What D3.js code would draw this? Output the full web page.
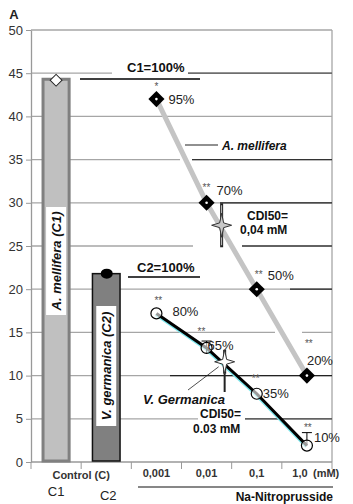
<!DOCTYPE html>
<html>
<head>
<meta charset="utf-8">
<script src="https://cdn.jsdelivr.net/npm/d3@7"></script>
<style>
  body { margin: 0; background: #fff; }
  svg text { font-family: "Liberation Sans", Arial, sans-serif; }
</style>
</head>
<body>
<svg id="chart" width="353" height="504"></svg>
<script>
// values
const categories = ["C1", "C2", "0,001", "0,01", "0,1", "1,0"];
const controlValues = [44.3, 21.8];
const melliferaValues = [42, 30, 20, 10];
const germanicaValues = [17.2, 13.2, 7.9, 1.9];
const melliferaLabels = ["95%", "70%", "50%", "20%"];
const germanicaLabels = ["80%", "65%", "35%", "10%"];
const melliferaStars = ["*", "**", "**", "**"];
const germanicaStars = ["**", "**", "**", "**"];
const germanicaErr = [null, [12.5, 14.0], null, [1.9, 3.4]];
const cdiMellifera = { pos: 3.3, value: 27.4 };
const cdiGermanica = { pos: 3.36, value: 11.6 };
const yTicks = [0, 5, 10, 15, 20, 25, 30, 35, 40, 45, 50];

const svg = d3.select('#chart');

const x = d3.scaleBand()
  .domain(categories)
  .range([31, 332])
  .paddingInner(0.42)
  .paddingOuter(0.21);

const y = d3.scaleLinear().domain([0, 50]).range([462, 30]);

const cx = (pos) => x.range()[0] + x.step() * (pos + 0.5);
const doseCats = categories.slice(2);

// gridlines
svg.append('g')
  .selectAll('line')
  .data(yTicks.slice(1))
  .join('line')
  .attr('x1', 31)
  .attr('x2', 332)
  .attr('y1', d => y(d))
  .attr('y2', d => y(d))
  .attr('stroke', '#a6a6a6')
  .attr('stroke-width', 1.3);

// right frame
svg.append('line')
  .attr('x1', 332).attr('x2', 332)
  .attr('y1', y(50)).attr('y2', y(0))
  .attr('stroke', '#a6a6a6')
  .attr('stroke-width', 1.3);

// white gaps where the boxes cut the gridlines
const gaps = [
  [112, y(45) - 3, 76, 6],
  [180, y(35) - 3, 12, 6],
  [193, y(25) - 3, 49, 6],
  [275, y(15) - 3, 27, 6],
  [198, y(5) - 3, 47, 6]
];
svg.append('g')
  .selectAll('rect')
  .data(gaps)
  .join('rect')
  .attr('x', d => d[0]).attr('y', d => d[1])
  .attr('width', d => d[2]).attr('height', d => d[3])
  .attr('fill', '#fff');

// darker segments over the gridlines
const darkSegs = [
  [188, 332, y(45), '#555'],
  [192, 332, y(35), '#333'],
  [220, 332, y(30), '#222'],
  [242, 332, y(25), '#444'],
  [290, 332, y(20), '#222'],
  [170, 332, y(10), '#222'],
  [245, 332, y(5), '#444']
];
svg.append('g')
  .selectAll('line')
  .data(darkSegs)
  .join('line')
  .attr('x1', d => d[0]).attr('x2', d => d[1])
  .attr('y1', d => d[2]).attr('y2', d => d[2])
  .attr('stroke', d => d[3])
  .attr('stroke-width', 1.3);

// y axis
const yAxis = svg.append('g')
  .attr('transform', 'translate(31,0)')
  .call(d3.axisLeft(y).tickValues(yTicks).tickSize(5).tickPadding(3).tickSizeOuter(0));
yAxis.select('.domain').attr('stroke', '#999').attr('stroke-width', 1.3);
yAxis.selectAll('.tick line').attr('stroke', '#999');
yAxis.selectAll('.tick text')
  .attr('font-size', 13)
  .attr('fill', '#333')
  .attr('font-family', '"Liberation Sans", Arial, sans-serif');

svg.append('text')
  .attr('x', 14).attr('y', 19)
  .attr('text-anchor', 'middle')
  .attr('font-size', 13)
  .attr('font-weight', 'bold')
  .attr('fill', '#222')
  .text('A');

// x axis
svg.append('line')
  .attr('x1', 31).attr('x2', 332)
  .attr('y1', y(0)).attr('y2', y(0))
  .attr('stroke', '#999')
  .attr('stroke-width', 1.3);
svg.append('g')
  .selectAll('line')
  .data(d3.range(categories.length + 1))
  .join('line')
  .attr('x1', i => x.range()[0] + i * x.step())
  .attr('x2', i => x.range()[0] + i * x.step())
  .attr('y1', y(0)).attr('y2', y(0) + 7)
  .attr('stroke', '#999');

// control bars
const barFill = ['#c0c0c0', '#808080'];
const barStroke = ['#808080', '#111'];
const barStrokeW = [3, 1.5];
svg.append('g')
  .selectAll('rect')
  .data(controlValues)
  .join('rect')
  .attr('x', (d, i) => x(categories[i]) + barStrokeW[i] / 2)
  .attr('y', d => y(d))
  .attr('width', (d, i) => x.bandwidth() - barStrokeW[i])
  .attr('height', d => y(0) - y(d) - 1)
  .attr('fill', (d, i) => barFill[i])
  .attr('stroke', (d, i) => barStroke[i])
  .attr('stroke-width', (d, i) => barStrokeW[i]);

// bar labels
const barLabels = [
  { text: 'A. mellifera (C1)', y0: 207, y1: 315 },
  { text: 'V. germanica (C2)', y0: 306, y1: 426 }
];
barLabels.forEach((b, i) => {
  const c = x(categories[i]) + x.bandwidth() / 2;
  svg.append('rect')
    .attr('x', c - 10).attr('y', b.y0)
    .attr('width', 20).attr('height', b.y1 - b.y0)
    .attr('fill', '#fff');
  svg.append('text')
    .attr('transform', `translate(${c + 5},${(b.y0 + b.y1) / 2}) rotate(-90)`)
    .attr('text-anchor', 'middle')
    .attr('font-size', 13)
    .attr('font-weight', 'bold')
    .attr('font-style', 'italic')
    .attr('fill', '#111')
    .text(b.text);
});

// markers on top of bars
svg.append('path')
  .attr('d', d3.symbol(d3.symbolSquare, 70)())
  .attr('transform', `translate(${x('C1') + x.bandwidth() / 2},${y(controlValues[0]) + 1}) rotate(45)`)
  .attr('fill', '#fff')
  .attr('stroke', '#222');
svg.append('ellipse')
  .attr('cx', x('C2') + x.bandwidth() / 2 + 0.5)
  .attr('cy', y(controlValues[1]))
  .attr('rx', 6).attr('ry', 5)
  .attr('fill', '#000');

// 100% labels
const ctrlText = [
  { t: 'C1=100%', x: 127, y: 72, x1: 80, x2: 200, ly: 79 },
  { t: 'C2=100%', x: 137, y: 272, x1: 128, x2: 200, ly: 277 }
];
ctrlText.forEach(c => {
  svg.append('text')
    .attr('x', c.x).attr('y', c.y)
    .attr('font-size', 13).attr('font-weight', 'bold')
    .attr('fill', '#111')
    .text(c.t);
  svg.append('line')
    .attr('x1', c.x1).attr('x2', c.x2)
    .attr('y1', c.ly).attr('y2', c.ly)
    .attr('stroke', '#000').attr('stroke-width', 1.3);
});

// A. mellifera line
const line = d3.line()
  .x((d, i) => x(doseCats[i]) + x.bandwidth() / 2)
  .y(d => y(d));

svg.append('path')
  .datum(melliferaValues)
  .attr('d', line)
  .attr('fill', 'none')
  .attr('stroke', '#c4c4c4')
  .attr('stroke-width', 5);

// V. germanica line with the cyan shadow
svg.append('path')
  .datum(germanicaValues)
  .attr('d', line)
  .attr('transform', 'translate(-1,1.5)')
  .attr('fill', 'none')
  .attr('stroke', '#7fe8ee')
  .attr('stroke-width', 2);
svg.append('path')
  .datum(germanicaValues)
  .attr('d', line)
  .attr('fill', 'none')
  .attr('stroke', '#000')
  .attr('stroke-width', 3);

// CDI50 star markers
const star = (rx, ry) => {
  const pts = [];
  for (let k = 0; k < 8; k++) {
    const a = k * Math.PI / 4;
    const r = k % 2 === 0 ? 1 : 0.28;
    pts.push([Math.sin(a) * rx * r, -Math.cos(a) * ry * r]);
  }
  return 'M' + pts.map(p => p.join(',')).join('L') + 'Z';
};

const drawCdi = (c, fill, h) => {
  const px = cx(c.pos), py = y(c.value);
  svg.append('line')
    .attr('x1', px).attr('x2', px)
    .attr('y1', py - h).attr('y2', py + h)
    .attr('stroke', '#222').attr('stroke-width', 3);
  svg.append('line')
    .attr('x1', px).attr('x2', px)
    .attr('y1', py - h + 2).attr('y2', py + h - 2)
    .attr('stroke', fill).attr('stroke-width', 1);
  svg.append('path')
    .attr('d', star(10, 12))
    .attr('transform', `translate(${px},${py})`)
    .attr('fill', fill)
    .attr('stroke', '#333');
};

// callout lines for V. germanica
svg.append('line')
  .attr('x1', 188).attr('y1', 390)
  .attr('x2', cx(cdiGermanica.pos) - 6).attr('y2', y(cdiGermanica.value) + 5)
  .attr('stroke', '#222').attr('stroke-width', 0.8);
svg.append('line')
  .attr('x1', cx(cdiGermanica.pos)).attr('y1', y(cdiGermanica.value) + 12)
  .attr('x2', cx(cdiGermanica.pos)).attr('y2', 392)
  .attr('stroke', '#222').attr('stroke-width', 2);

drawCdi(cdiMellifera, '#c8c8c8', 22);
drawCdi(cdiGermanica, '#fff', 12);

// error bars for V. germanica
germanicaErr.forEach((e, i) => {
  if (!e) return;
  const px = x(doseCats[i]) + x.bandwidth() / 2;
  svg.append('line')
    .attr('x1', px).attr('x2', px)
    .attr('y1', y(e[1])).attr('y2', y(e[0]))
    .attr('stroke', '#000');
  svg.append('line')
    .attr('x1', px - 5).attr('x2', px + 5)
    .attr('y1', y(e[1])).attr('y2', y(e[1]))
    .attr('stroke', '#000');
});

// markers
svg.append('g')
  .selectAll('circle')
  .data(germanicaValues)
  .join('circle')
  .attr('cx', (d, i) => x(doseCats[i]) + x.bandwidth() / 2)
  .attr('cy', d => y(d))
  .attr('r', 5.5)
  .attr('fill', '#fff')
  .attr('fill-opacity', 0.6)
  .attr('stroke', '#000')
  .attr('stroke-width', 1.2);

const diamonds = svg.append('g')
  .selectAll('g')
  .data(melliferaValues)
  .join('g')
  .attr('transform', (d, i) => `translate(${x(doseCats[i]) + x.bandwidth() / 2},${y(d)})`);
diamonds.append('path')
  .attr('d', d3.symbol(d3.symbolSquare, 130)())
  .attr('transform', 'rotate(45)')
  .attr('fill', '#000');
diamonds.append('circle')
  .attr('r', 1.3)
  .attr('fill', '#fff');

// percentage labels
const pctMellifera = [[-2, -9, 12, 5], [-4, -12, 10, -8], [-2, -11, 11, -9], [-2, -29, 0, -11]];
const pctGermanica = [[-2, -9, 16, 3], [-9, -13, 1, 2], [-5, -12, 6, 4], [-3, -15, 7, -4]];

const addPct = (vals, labels, stars, offs) => {
  vals.forEach((v, i) => {
    const px = x(doseCats[i]) + x.bandwidth() / 2;
    const py = y(v);
    const o = offs[i];
    svg.append('text')
      .attr('x', px + o[0]).attr('y', py + o[1])
      .attr('font-size', 10)
      .attr('fill', '#555')
      .text(stars[i]);
    svg.append('text')
      .attr('x', px + o[2]).attr('y', py + o[3])
      .attr('font-size', 13)
      .attr('fill', '#222')
      .text(labels[i]);
  });
};
addPct(melliferaValues, melliferaLabels, melliferaStars, pctMellifera);
addPct(germanicaValues, germanicaLabels, germanicaStars, pctGermanica);

// A. mellifera callout
svg.append('line')
  .attr('x1', 185).attr('x2', 218)
  .attr('y1', 145).attr('y2', 145)
  .attr('stroke', '#222').attr('stroke-width', 1.2);
svg.append('text')
  .attr('x', 222).attr('y', 150)
  .attr('font-size', 12).attr('font-weight', 'bold').attr('font-style', 'italic')
  .attr('fill', '#111')
  .text('A. mellifera');

// CDI50 texts
const cdiText = [
  { x: 247, y: 220, t: 'CDI50=' },
  { x: 240, y: 234, t: '0,04 mM' },
  { x: 200, y: 418, t: 'CDI50=' },
  { x: 193, y: 433, t: '0.03 mM' }
];
svg.append('g')
  .selectAll('text')
  .data(cdiText)
  .join('text')
  .attr('x', d => d.x).attr('y', d => d.y)
  .attr('font-size', 12).attr('font-weight', 'bold')
  .attr('fill', '#111')
  .text(d => d.t);

svg.append('text')
  .attr('x', 143).attr('y', 404)
  .attr('font-size', 13).attr('font-weight', 'bold').attr('font-style', 'italic')
  .attr('fill', '#111')
  .text('V. Germanica');

// x labels
svg.append('g')
  .selectAll('text')
  .data(doseCats)
  .join('text')
  .attr('x', d => x(d) + x.bandwidth() / 2 + (d === '1,0' ? -7 : 0))
  .attr('y', 477)
  .attr('text-anchor', 'middle')
  .attr('font-size', 11).attr('font-weight', 'bold')
  .attr('fill', '#333')
  .text(d => d);
svg.append('text')
  .attr('x', 313).attr('y', 477)
  .attr('font-size', 11).attr('font-weight', 'bold')
  .attr('fill', '#333')
  .text('(mM)');

svg.append('text')
  .attr('x', (x('C1') + x('C2') + x.bandwidth()) / 2).attr('y', 479)
  .attr('text-anchor', 'middle')
  .attr('font-size', 11).attr('font-weight', 'bold')
  .attr('fill', '#333')
  .text('Control (C)');

svg.append('g')
  .selectAll('text')
  .data(categories.slice(0, 2))
  .join('text')
  .attr('x', (d, i) => x(d) + x.bandwidth() / 2 + i * 2)
  .attr('y', (d, i) => 496 + i * 4)
  .attr('text-anchor', 'middle')
  .attr('font-size', 13)
  .attr('fill', '#222')
  .text(d => d);

svg.append('line')
  .attr('x1', 138).attr('x2', 333)
  .attr('y1', 487).attr('y2', 487)
  .attr('stroke', '#111').attr('stroke-width', 1.2);
svg.append('text')
  .attr('x', 333).attr('y', 501)
  .attr('text-anchor', 'end')
  .attr('font-size', 12).attr('font-weight', 'bold')
  .attr('fill', '#111')
  .text('Na-Nitroprusside');
</script>
</body>
</html>
